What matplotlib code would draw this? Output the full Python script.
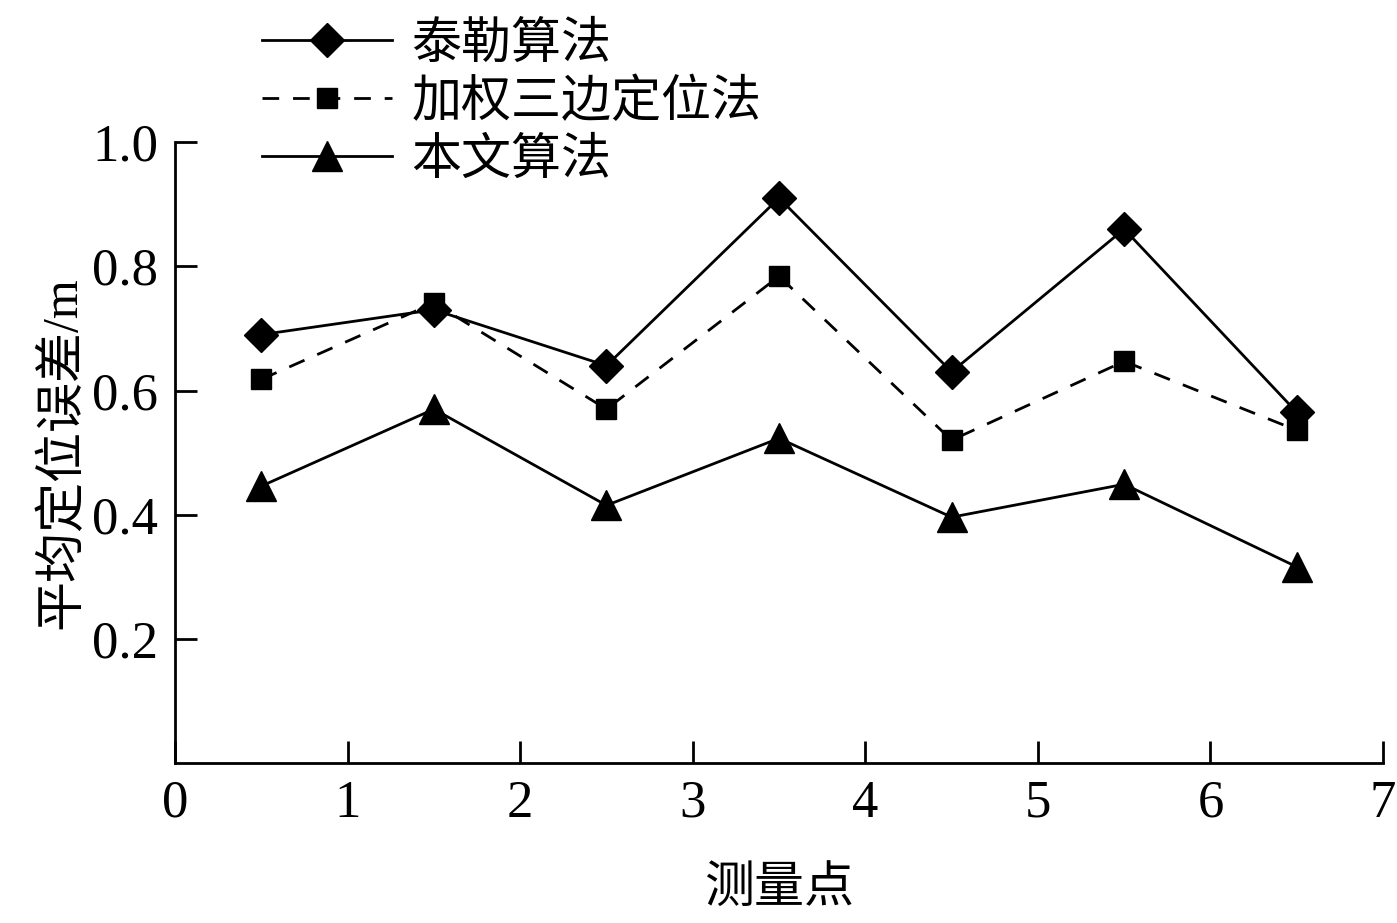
import matplotlib.pyplot as plt

plt.rcParams['font.family'] = ['Liberation Serif', 'Noto Sans CJK SC']

pontos = [0.5, 1.5, 2.5, 3.5, 4.5, 5.5, 6.5]
taylor = [0.69, 0.73, 0.64, 0.91, 0.63, 0.86, 0.565]
ponderado = [0.618, 0.741, 0.57, 0.784, 0.52, 0.647, 0.536]
nosso = [0.446, 0.57, 0.415, 0.523, 0.396, 0.449, 0.316]
nomes = ['泰勒算法', '加权三边定位法', '本文算法']

fig = plt.figure(figsize=(13.97, 9.23), dpi=100)
ax = fig.add_axes([0.1253, 0.1733, 0.8647, 0.6727])

ax.plot(pontos, taylor, color='black', lw=2, marker='D', ms=17, label=nomes[0])
ax.plot(pontos, ponderado, color='black', lw=2, ls=(0, (6, 5)), marker='s', ms=15, label=nomes[1])
ax.plot(pontos, nosso, color='black', lw=2, marker='^', ms=21, label=nomes[2])

ax.set_xlim(0, 7)
ax.set_ylim(0, 1.0)
ax.set_xticks(range(8))
ax.set_yticks([0.2, 0.4, 0.6, 0.8, 1.0])
ax.set_yticklabels(['0.2', '0.4', '0.6', '0.8', '1.0'])
ax.tick_params(direction='in', length=16, width=2, labelsize=38, pad=12)
ax.spines['top'].set_visible(False)
ax.spines['right'].set_visible(False)
ax.spines['left'].set_linewidth(2)
ax.spines['bottom'].set_linewidth(2)

ax.set_xlabel('测量点', fontsize=36, labelpad=28)
ax.set_ylabel('平均定位误差/m', fontsize=36, labelpad=4)

fig.legend(loc='upper left', bbox_to_anchor=(0.155, 1.025), frameon=False,
           fontsize=36, handlelength=2.6, labelspacing=0.22, handletextpad=0.4)

plt.savefig('out.png')
